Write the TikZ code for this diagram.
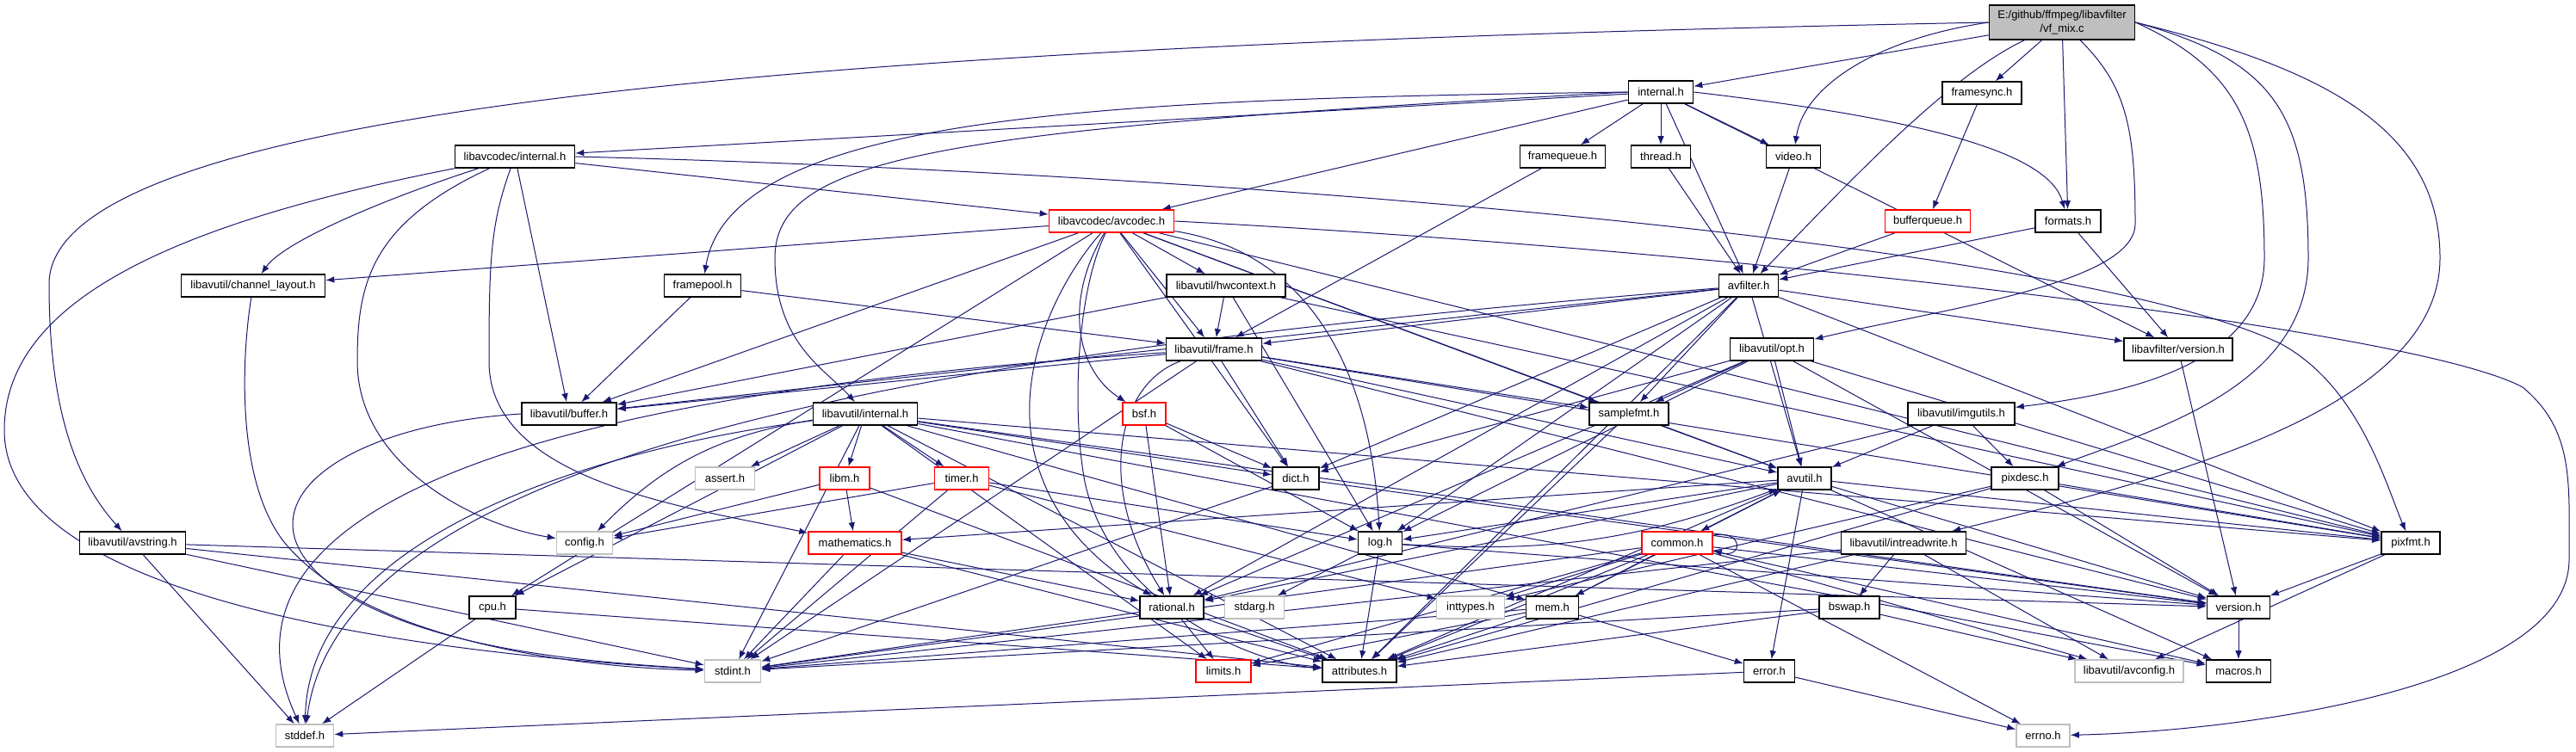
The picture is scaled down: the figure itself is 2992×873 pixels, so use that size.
\documentclass[tikz,border=0pt]{standalone}
\usepackage{fontspec}
\setmainfont{Liberation Sans}
\usetikzlibrary{arrows.meta,calc}
\definecolor{edgec}{RGB}{25,25,112}
\definecolor{redb}{RGB}{255,0,0}
\definecolor{grayb}{RGB}{191,191,191}
\definecolor{mainf}{RGB}{191,191,191}
\pgfdeclarelayer{bg}
\pgfdeclarelayer{back}
\pgfsetlayers{back,bg,main}
\begin{document}
\begin{tikzpicture}[x=0.5pt,y=-0.5pt,
  nd/.style={draw=black,line width=0.8pt,fill=white,minimum height=13pt,inner sep=1pt,
             font=\fontsize{6.5pt}{7.8pt}\selectfont},
  rd/.style={nd,draw=redb},
  gd/.style={nd,draw=grayb},
  e/.style={draw=edgec,line width=0.5pt,-{Latex[length=5pt,width=3.8pt]}}]
\useasboundingbox (0,0) rectangle (2992,873);
\begin{pgfonlayer}{back}
\fill[white] (0,0) rectangle (2992,873);
\end{pgfonlayer}

% nodes
\node[nd,fill=mainf,minimum width=84.5pt,minimum height=20pt,align=center] (main) at (2395,26) {E:/github/ffmpeg/libavfilter\\/vf\_mix.c};
\node[nd,minimum width=37.5pt] (intl) at (1929,107) {internal.h};
\node[nd,minimum width=46pt] (fsync) at (2302,108) {framesync.h};
\node[nd,minimum width=69.5pt] (lavcint) at (598,182) {libavcodec/internal.h};
\node[nd,minimum width=49.5pt] (fqueue) at (1815,182) {framequeue.h};
\node[nd,minimum width=34.5pt] (thread) at (1929,182) {thread.h};
\node[nd,minimum width=31.5pt] (video) at (2083,182) {video.h};
\node[rd,minimum width=72.5pt] (avcodec) at (1291,257) {libavcodec/avcodec.h};
\node[rd,minimum width=49.5pt] (bqueue) at (2239,257) {bufferqueue.h};
\node[nd,minimum width=38pt] (formats) at (2402,257) {formats.h};
\node[nd,minimum width=83.5pt] (chlayout) at (294,332) {libavutil/channel\_layout.h};
\node[nd,minimum width=44.5pt] (fpool) at (816,332) {framepool.h};
\node[nd,minimum width=69pt] (hwctx) at (1424,332) {libavutil/hwcontext.h};
\node[nd,minimum width=34.5pt] (avfilter) at (2031,332) {avfilter.h};
\node[nd,minimum width=55.5pt] (frame) at (1410,406) {libavutil/frame.h};
\node[nd,minimum width=48.5pt] (opt) at (2058,406) {libavutil/opt.h};
\node[nd,minimum width=63pt] (lafver) at (2530,406) {libavfilter/version.h};
\node[nd,minimum width=55pt] (buffer) at (661,481) {libavutil/buffer.h};
\node[nd,minimum width=60.5pt] (lavuint) at (1005,481) {libavutil/internal.h};
\node[rd,minimum width=25pt] (bsf) at (1329,481) {bsf.h};
\node[nd,minimum width=46pt] (sfmt) at (1892,481) {samplefmt.h};
\node[nd,minimum width=62pt] (imgutils) at (2278,481) {libavutil/imgutils.h};
\node[gd,minimum width=34.5pt] (assert) at (842,556) {assert.h};
\node[rd,minimum width=29pt] (libm) at (981,556) {libm.h};
\node[rd,minimum width=31.5pt] (timer) at (1117,556) {timer.h};
\node[nd,minimum width=27pt] (dict) at (1505,556) {dict.h};
\node[nd,minimum width=31pt] (avutil) at (2096,556) {avutil.h};
\node[nd,minimum width=39pt] (pixdesc) at (2352,556) {pixdesc.h};
\node[nd,minimum width=61.5pt] (avstring) at (154,631) {libavutil/avstring.h};
\node[gd,minimum width=32.5pt] (config) at (679,631) {config.h};
\node[rd,minimum width=54pt] (math) at (993,631) {mathematics.h};
\node[nd,minimum width=25.5pt] (log) at (1603,631) {log.h};
\node[rd,minimum width=41pt] (common) at (1948,631) {common.h};
\node[nd,minimum width=72.5pt] (intrw) at (2211,631) {libavutil/intreadwrite.h};
\node[nd,minimum width=34pt] (pixfmt) at (2800,631) {pixfmt.h};
\node[nd,minimum width=27pt] (cpu) at (572,706) {cpu.h};
\node[nd,minimum width=37pt] (rational) at (1361,706) {rational.h};
\node[gd,minimum width=34.5pt] (stdarg) at (1457,706) {stdarg.h};
\node[gd,minimum width=39.5pt] (inttypes) at (1708,706) {inttypes.h};
\node[nd,minimum width=30.5pt] (mem) at (1803,706) {mem.h};
\node[nd,minimum width=35pt] (bswap) at (2148,706) {bswap.h};
\node[nd,minimum width=36.5pt] (version) at (2600,706) {version.h};
\node[gd,minimum width=32.5pt] (stdint) at (851,780) {stdint.h};
\node[rd,minimum width=32pt] (limits) at (1421,780) {limits.h};
\node[nd,minimum width=43pt] (attr) at (1579,780) {attributes.h};
\node[nd,minimum width=29.5pt] (error) at (2055,780) {error.h};
\node[gd,minimum width=63pt] (avconfig) at (2473,780) {libavutil/avconfig.h};
\node[nd,minimum width=37.5pt] (macros) at (2600,780) {macros.h};
\node[gd,minimum width=33.5pt] (stddef) at (354,855) {stddef.h};
\node[gd,minimum width=31pt] (errno) at (2373,855) {errno.h};

\begin{pgfonlayer}{bg}
% straight edges
\foreach \s/\t in {
 main/intl, main/fsync, main/formats,
 intl/lavcint, intl/fqueue, intl/thread, intl/avcodec, intl/avfilter, intl/video, intl/lafver,
 lavcint/buffer, lavcint/avcodec,
 avcodec/chlayout, avcodec/hwctx, avcodec/frame, avcodec/dict, avcodec/avutil,
 avcodec/pixfmt, avcodec/cpu, avcodec/sfmt, avcodec/buffer,
 fpool/buffer, fpool/frame, fqueue/frame, thread/avfilter, video/avfilter,
 fsync/bqueue, bqueue/avfilter, formats/avfilter, formats/lafver,
 hwctx/buffer, hwctx/frame, hwctx/log, hwctx/pixfmt,
 avfilter/frame, avfilter/buffer, avfilter/dict, avfilter/log, avfilter/sfmt, avfilter/avutil,
 avfilter/rational, avfilter/attr, avfilter/pixfmt, avfilter/lafver,
 frame/buffer, frame/stdint, frame/avutil, frame/dict, frame/sfmt, frame/pixfmt, frame/version,
 opt/rational, opt/avutil, opt/dict, opt/log, opt/pixfmt, opt/sfmt, opt/version,
 lafver/version,
 lavuint/limits, lavuint/stdint, lavuint/assert, lavuint/attr, lavuint/timer,
 lavuint/cpu, lavuint/dict, lavuint/macros, lavuint/mem, lavuint/pixfmt, lavuint/version, lavuint/libm,
 bsf/dict, bsf/log, bsf/rational, sfmt/avutil, sfmt/attr,
 imgutils/avutil, imgutils/pixdesc, imgutils/rational,
 libm/config, libm/math, libm/attr,
 timer/config, timer/log, timer/inttypes, timer/stdint,
 avutil/common, avutil/error, avutil/version, avutil/macros, avutil/math, avutil/rational,
 avutil/log, avutil/pixfmt, avutil/attr,
 pixdesc/inttypes, pixdesc/attr, pixdesc/pixfmt, pixdesc/version,
 avstring/stddef, avstring/stdint, avstring/attr, avstring/version,
 math/stdint, math/rational, math/attr,
 log/stdarg, log/attr, log/version,
 common/errno, common/inttypes, common/limits, common/stdint, common/attr, common/macros,
 common/version, common/avconfig, common/mem,
 intrw/stdint, intrw/avconfig, intrw/attr, intrw/bswap,
 pixfmt/avconfig, pixfmt/version, cpu/stddef, cpu/attr,
 rational/stdint, rational/limits, rational/attr,
 mem/limits, mem/stdint, mem/attr, mem/error, mem/avutil,
 bswap/stdint, bswap/avconfig, bswap/attr,
 version/macros, error/errno, error/stddef, dict/stdint, dict/version}
 \draw[e] (\s) -- (\t);

% curved edges
\draw[e] (log) to[bend right=12] (avutil);
\draw[e] (lavuint) to[bend right=18] (config);
\draw[e] (chlayout) .. controls (280,420) and (275,560) .. (330,630) .. controls (420,740) and (650,775) .. (stdint);
\draw[e] (avcodec) .. controls (1235,320) and (1180,420) .. (1200,520) .. controls (1220,620) and (1300,670) .. (rational);
\draw[e] (avcodec) .. controls (1235,350) and (1250,430) .. (bsf);
\draw[e] (avcodec) .. controls (1250,340) and (1245,480) .. (1260,560) .. controls (1290,700) and (1450,770) .. (attr);
\draw[e] (avcodec) .. controls (1500,290) and (1590,400) .. (log);
\draw[e] (frame) .. controls (1300,445) and (1270,560) .. (rational);
\draw[e] (main.west) .. controls (1100,50) and (57,110) .. (57,330) .. controls (57,480) and (90,560) .. (avstring);
\draw[e] (main.west) .. controls (2180,45) and (2095,100) .. (video);
\draw[e] (main) .. controls (2260,90) and (2140,220) .. (avfilter);
\draw[e] (main) .. controls (2470,100) and (2480,150) .. (2480,260) .. controls (2480,330) and (2250,360) .. (opt);
\draw[e] (main.east) .. controls (2600,80) and (2630,150) .. (2630,300) .. controls (2630,430) and (2450,460) .. (imgutils);
\draw[e] (main.east) .. controls (2640,70) and (2681,130) .. (2681,300) .. controls (2681,450) and (2500,500) .. (pixdesc);
\draw[e] (main.east) .. controls (2700,80) and (2834,150) .. (2834,300) .. controls (2834,480) and (2500,560) .. (intrw);
\draw[e] (intl.west) .. controls (1300,115) and (850,130) .. (fpool);
\draw[e] (intl.west) .. controls (1100,150) and (900,180) .. (900,300) .. controls (900,400) and (960,430) .. (lavuint);
\draw[e] (intl.east) .. controls (2250,140) and (2380,180) .. (formats);
\draw[e] (lavcint) .. controls (200,260) and (5,350) .. (5,500) .. controls (5,700) and (500,760) .. (stdint);
\draw[e] (lavcint) .. controls (450,230) and (330,280) .. (chlayout);
\draw[e] (lavcint) .. controls (430,260) and (415,330) .. (415,420) .. controls (415,540) and (550,610) .. (config);
\draw[e] (lavcint) .. controls (570,260) and (568,300) .. (568,420) .. controls (568,560) and (800,590) .. (math);
\draw[e] (lavcint.east) .. controls (1400,200) and (2400,280) .. (2650,400) .. controls (2740,450) and (2770,560) .. (pixfmt);
\draw[e] (avcodec.east) .. controls (2000,290) and (2800,380) .. (2930,450) .. controls (2990,500) and (2984,560) .. (2984,650) .. controls (2984,800) and (2600,850) .. (errno);
\draw[e] (buffer.west) .. controls (380,495) and (260,600) .. (400,690) .. controls (520,760) and (700,770) .. (stdint);
\draw[e] (avfilter) .. controls (1200,400) and (400,500) .. (stddef);
\draw[e] (frame) .. controls (900,440) and (200,520) .. (stddef);
\draw[e] (lavuint) .. controls (700,520) and (360,620) .. (stddef);
\draw[e] ($(common.north east)+(0,5)$) .. controls (2025,615) and (2025,650) .. ($(common.south east)+(0,-5)$);
\end{pgfonlayer}
\end{tikzpicture}
\end{document}
